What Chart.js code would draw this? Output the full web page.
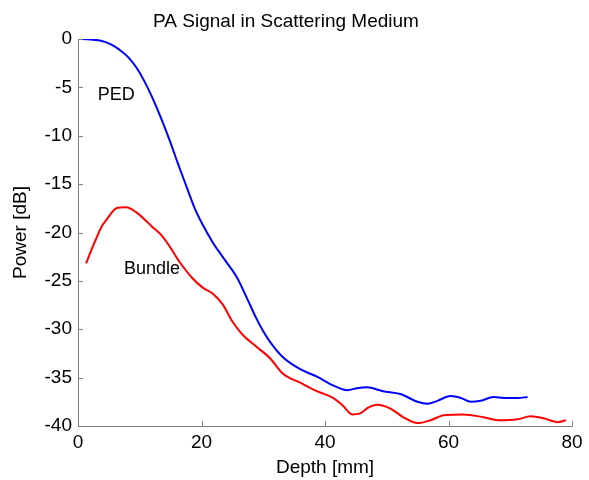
<!DOCTYPE html>
<html>
<head>
<meta charset="utf-8">
<script src="https://cdn.jsdelivr.net/npm/chart.js@4"></script>
<style>
html,body{margin:0;padding:0;background:#fff;}
#wrap{width:589px;height:480px;}
</style>
</head>
<body>
<div id="wrap"><canvas id="c" width="589" height="480"></canvas></div>
<script>
const pedDepth = [0,2,3.9,5.5,6.7,8,9.4,10.7,12,13.4,14.8,16.2,17.6,18.9,20.2,21.8,23.4,25.7,27.3,28.9,30,31.1,33.2,35.9,38.7,41.3,43.6,45.2,46.8,49.4,52.2,55,56.6,58.2,60.3,62,63.6,65.2,67.3,69,71.2,72.8];
const pedPower = [0,-0.05,-0.2,-0.6,-1.1,-1.8,-2.9,-4.3,-6.0,-8.1,-10.4,-12.9,-15.3,-17.5,-19.2,-21.0,-22.5,-24.6,-26.7,-28.9,-30.2,-31.3,-32.9,-34.1,-34.9,-35.8,-36.3,-36.1,-36.0,-36.4,-36.7,-37.5,-37.7,-37.4,-36.9,-37.1,-37.5,-37.4,-37.0,-37.1,-37.1,-37.0];
const bundleDepth = [1.3,2.3,2.9,3.9,4.6,5.4,6.2,7.8,9.4,10.7,12,13.4,14.8,16.4,18.5,20.2,21.8,23.4,25,26.7,28.9,31.1,33.2,35.9,38.7,41.3,42.9,44.4,45.7,47,48.5,50.6,52.7,55,57.1,59.2,62.4,65.7,68,71.2,73.3,75.4,77.7,79];
const bundlePower = [-23.2,-21.6,-20.7,-19.3,-18.7,-18.0,-17.5,-17.4,-17.9,-18.6,-19.4,-20.2,-21.4,-23.0,-24.7,-25.7,-26.3,-27.4,-29.2,-30.6,-31.8,-33.0,-34.6,-35.5,-36.4,-37.1,-37.9,-38.8,-38.7,-38.1,-37.8,-38.2,-39.1,-39.7,-39.4,-38.9,-38.8,-39.1,-39.4,-39.3,-39.0,-39.2,-39.6,-39.4];
const xTicks = [0,20,40,60,80];
const yTicks = [0,-5,-10,-15,-20,-25,-30,-35,-40];
const seriesLabels = ['PED','Bundle'];
const labelPos = [[6.2,-5.8],[12,-23.8]];

const FONT = "'Liberation Sans', Arial, Helvetica, sans-serif";
const toPts = (xs, ys) => xs.map((x,i)=>({x:x,y:ys[i]}));

const inwardTicks = {
  id:'inwardTicks',
  afterDraw(chart){
    const ctx = chart.ctx, xs = chart.scales.x, ys = chart.scales.y, a = chart.chartArea;
    ctx.save();
    ctx.strokeStyle = '#7f7f7f';
    ctx.lineWidth = 1;
    ctx.beginPath();
    xTicks.forEach(v=>{const p=Math.round(xs.getPixelForValue(v))+0.5; ctx.moveTo(p,a.bottom); ctx.lineTo(p,a.bottom-5);});
    yTicks.forEach(v=>{const p=Math.round(ys.getPixelForValue(v))+0.5; ctx.moveTo(a.left,p); ctx.lineTo(a.left+5,p);});
    ctx.stroke();
    ctx.fillStyle = '#000';
    ctx.font = "18px " + FONT;
    ctx.textAlign = 'center';
    ctx.textBaseline = 'middle';
    seriesLabels.forEach((t,i)=>{
      ctx.fillText(t, xs.getPixelForValue(labelPos[i][0]), ys.getPixelForValue(labelPos[i][1]));
    });
    ctx.restore();
  }
};

new Chart(document.getElementById('c'), {
  type:'line',
  data:{
    datasets:[
      {label:seriesLabels[0], data:toPts(pedDepth,pedPower), borderColor:'#0000ff', borderWidth:2, pointRadius:0, cubicInterpolationMode:'monotone', fill:false},
      {label:seriesLabels[1], data:toPts(bundleDepth,bundlePower), borderColor:'#ff0000', borderWidth:2, pointRadius:0, cubicInterpolationMode:'monotone', fill:false}
    ]
  },
  options:{
    responsive:false,
    animation:false,
    devicePixelRatio:1,
    layout:{padding:{left:0,right:17,top:0,bottom:0}},
    plugins:{
      legend:{display:false},
      tooltip:{enabled:false},
      title:{display:true, text:'PA Signal in Scattering Medium', color:'#000', font:{family:FONT, size:19, weight:'normal', lineHeight:1.2}, padding:{top:10,bottom:6.2}}
    },
    scales:{
      x:{
        type:'linear', min:0, max:80,
        afterBuildTicks(s){ s.ticks = xTicks.map(v=>({value:v})); },
        afterFit(s){ s.height = 54; },
        grid:{display:false, drawTicks:false},
        border:{display:true, color:'#7f7f7f', width:1},
        ticks:{color:'#000', font:{family:FONT, size:19}, padding:5, maxRotation:0},
        title:{display:true, text:'Depth [mm]', color:'#000', font:{family:FONT, size:19}, padding:{top:0,bottom:1}}
      },
      y:{
        type:'linear', min:-40, max:0,
        afterBuildTicks(s){ s.ticks = yTicks.map(v=>({value:v})); },
        afterFit(s){ s.width = 78; },
        grid:{display:false, drawTicks:false},
        border:{display:true, color:'#7f7f7f', width:1},
        ticks:{color:'#000', font:{family:FONT, size:19}, padding:6},
        title:{display:true, text:'Power [dB]', color:'#000', font:{family:FONT, size:19}, padding:{top:9,bottom:0}}
      }
    }
  },
  plugins:[inwardTicks]
});
</script>
</body>
</html>
